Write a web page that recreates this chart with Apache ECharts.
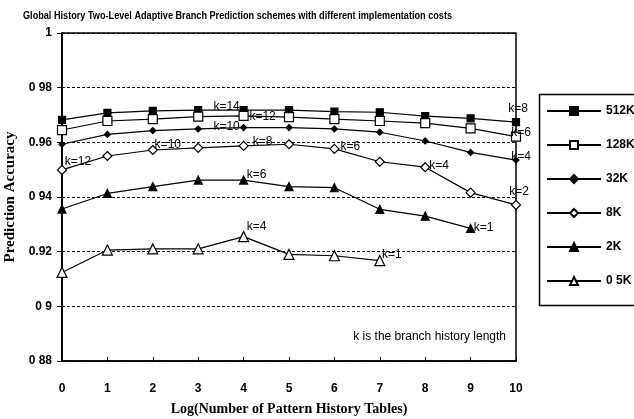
<!DOCTYPE html>
<html><head><meta charset="utf-8">
<script src="https://cdn.jsdelivr.net/npm/echarts@6/dist/echarts.min.js"></script>
<style>html,body{margin:0;padding:0;background:#fff}#c{width:634px;height:419px}</style>
</head><body><div id="c"></div>
<script>
// ---- data ----
const xValues = [0, 1, 2, 3, 4, 5, 6, 7, 8, 9, 10];
const seriesNames = ['512K', '128K', '32K', '8K', '2K', '0 5K'];
const acc512K = [0.9682, 0.9708, 0.9715, 0.9718, 0.9718, 0.9718, 0.9712, 0.9710, 0.9696, 0.9688, 0.9674];
const acc128K = [0.9645, 0.9678, 0.9685, 0.9694, 0.9697, 0.9692, 0.9685, 0.9678, 0.9670, 0.9651, 0.9621];
const acc32K  = [0.9593, 0.9629, 0.9643, 0.9649, 0.9654, 0.9654, 0.9649, 0.9637, 0.9605, 0.9563, 0.9535];
const acc8K   = [0.9499, 0.9550, 0.9572, 0.9580, 0.9587, 0.9593, 0.9576, 0.9529, 0.9509, 0.9416, 0.9371];
const acc2K   = [0.9356, 0.9413, 0.9438, 0.9462, 0.9462, 0.9438, 0.9434, 0.9355, 0.9330, 0.9285];
const acc05K  = [0.9124, 0.9206, 0.9210, 0.9210, 0.9255, 0.9190, 0.9185, 0.9167];
const yTickLabels = ['0 88', '0 9', '0.92', '0 94', '0.96', '0 98', '1'];
const xTickLabels = ['0', '1', '2', '3', '4', '5', '6', '7', '8', '9', '10'];
// k annotations: [series index, point index, text]
const kNotes = [
  [0, 4, 'k=14'], [1, 4, 'k=12'], [2, 4, 'k=10'], [3, 2, 'k=10'], [3, 4, 'k=8'],
  [3, 0, 'k=12'], [4, 4, 'k=6'], [5, 4, 'k=4'], [3, 6, 'k=6'], [3, 8, 'k=4'],
  [4, 9, 'k=1'], [5, 7, 'k=1'], [0, 10, 'k=8'], [1, 10, 'k=6'], [2, 10, 'k=4'], [3, 10, 'k=2']
];
const titleText = 'Global History Two-Level Adaptive Branch Prediction schemes with different implementation costs';
const noteText = 'k is the branch history length';

// ---- styles ----
const allValues = [acc512K, acc128K, acc32K, acc8K, acc2K, acc05K];
const kOffsets = [
  [-17, -3], [19, 1], [-17, -1], [15, -5], [19, -4],
  [16, -8], [13, -5], [13, -10], [16, -2], [14, -2],
  [13, -1], [12, -6], [2, -13], [5, -4], [5, -3], [3, -13]
];
const symStyles = [
  {symbol: 'rect', size: 7, fill: '#000'},
  {symbol: 'rect', size: 9, fill: '#fff'},
  {symbol: 'diamond', size: 6, fill: '#000'},
  {symbol: 'diamond', size: 9, fill: '#fff'},
  {symbol: 'triangle', size: 8, fill: '#000'},
  {symbol: 'triangle', size: 10, fill: '#fff'}
];
const sansBold = {fontFamily: 'Liberation Sans, Arial, sans-serif', fontWeight: 'bold', color: '#000'};

const series = allValues.map((vals, si) => {
  const data = vals.map((v, i) => {
    const item = {value: [xValues[i], v]};
    kNotes.forEach((n, ni) => {
      if (n[0] === si && n[1] === i) {
        item.label = {
          show: true, formatter: n[2], position: 'inside', offset: kOffsets[ni],
          fontSize: 12, fontFamily: 'Liberation Sans, Arial, sans-serif', color: '#000',
          align: 'center', verticalAlign: 'middle'
        };
      }
    });
    return item;
  });
  const st = symStyles[si];
  return {
    name: seriesNames[si], type: 'line', data: data,
    symbol: st.symbol, symbolSize: st.size, showSymbol: true, animation: false,
    itemStyle: {color: st.fill, borderColor: '#000', borderWidth: 1.2, opacity: 1},
    lineStyle: {color: '#000', width: 1.2},
    label: {show: false},
    emphasis: {disabled: true}, z: 3
  };
});

const chart = echarts.init(document.getElementById('c'), null, {renderer: 'canvas'});
chart.setOption({
  backgroundColor: '#fff',
  animation: false,
  grid: {left: 62, right: 118, top: 33, bottom: 58, containLabel: false, outerBoundsMode: 'none', show: true, borderColor: '#000', borderWidth: 1.5, backgroundColor: 'transparent'},
  xAxis: {
    type: 'value', min: 0, max: 10, interval: 1,
    name: 'Log(Number of Pattern History Tables)', nameLocation: 'middle', nameGap: 41,
    nameTextStyle: {fontFamily: 'Liberation Serif, Times New Roman, serif', fontWeight: 'bold', fontSize: 14, color: '#000'},
    axisLine: {show: true, lineStyle: {color: '#000', width: 1.5}},
    axisTick: {show: true, length: 4, inside: true, lineStyle: {color: '#000', width: 1}},
    axisLabel: Object.assign({fontSize: 12, margin: 22, formatter: (v) => xTickLabels[Math.round(v)]}, sansBold),
    splitLine: {show: false}
  },
  yAxis: {
    type: 'value', min: 0.88, max: 1, interval: 0.02,
    name: 'Prediction Accuracy', nameLocation: 'middle', nameGap: 37,
    nameTextStyle: {fontFamily: 'Liberation Serif, Times New Roman, serif', fontWeight: 'bold', fontSize: 15, color: '#000'},
    axisLine: {show: true, lineStyle: {color: '#000', width: 2}},
    axisTick: {show: true, length: 5, lineStyle: {color: '#000', width: 1}},
    axisLabel: Object.assign({fontSize: 12, margin: 10, formatter: (v) => yTickLabels[Math.round((v - 0.88) / 0.02)]}, sansBold),
    splitLine: {show: true, lineStyle: {color: '#000', type: [3, 2], width: 1}}
  },
  legend: {
    orient: 'vertical', left: 546, top: 105, padding: 0, itemWidth: 54, itemHeight: 10, itemGap: 22,
    data: seriesNames,
    textStyle: Object.assign({fontSize: 12}, sansBold)
  },
  graphic: [
    {type: 'text', x: 23, y: 10, scaleX: 0.83, style: {text: titleText, font: 'bold 11px "Liberation Sans", Arial, sans-serif', fill: '#000'}},
    {type: 'rect', left: 537, top: 92, shape: {width: 120, height: 211}, style: {fill: 'none', stroke: '#000', lineWidth: 1.5}, z: 0},
    {type: 'text', right: 634 - 506, top: 331, style: {text: noteText, fontSize: 12, fontFamily: 'Liberation Sans, Arial, sans-serif', fill: '#000'}}
  ],
  series: series
});
</script></body></html>
